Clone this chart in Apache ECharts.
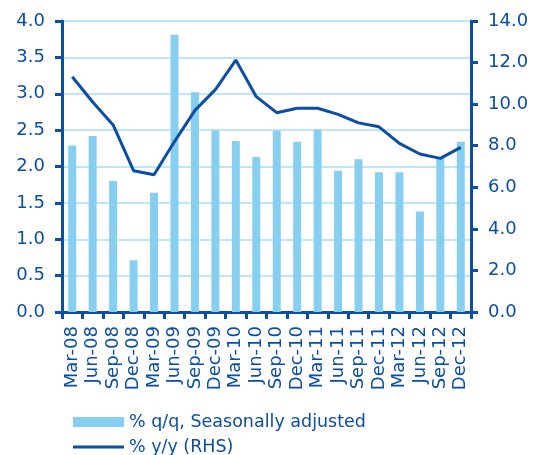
<!DOCTYPE html>
<html>
<head>
<meta charset="utf-8">
<script src="https://cdn.jsdelivr.net/npm/echarts@6/dist/echarts.min.js"></script>
<style>
html,body{margin:0;padding:0;background:#fff;}
#c{width:533px;height:455px;}
</style>
</head>
<body>
<div id="c"></div>
<script>
var categories = ['Mar-08','Jun-08','Sep-08','Dec-08','Mar-09','Jun-09','Sep-09','Dec-09','Mar-10','Jun-10','Sep-10','Dec-10','Mar-11','Jun-11','Sep-11','Dec-11','Mar-12','Jun-12','Sep-12','Dec-12'];
var qoq = [2.29,2.42,1.80,0.71,1.64,3.81,3.02,2.50,2.35,2.13,2.49,2.34,2.51,1.94,2.10,1.92,1.92,1.38,2.13,2.34];
var yoy = [11.32,10.1,9.0,6.8,6.6,8.2,9.7,10.7,12.12,10.36,9.59,9.8,9.8,9.51,9.1,8.91,8.11,7.6,7.39,7.92];
var leftTicks = {min:0, max:4, interval:0.5};
var rightTicks = {min:0, max:14, interval:2};

var dark = '#0b4ea2';
var light = '#87cff1';
var grid = '#bfe6f7';
var font = 'DejaVu Sans';

var chart = echarts.init(document.getElementById('c'), null, {renderer:'canvas'});
var legendText = {color:dark,fontSize:17.5,fontFamily:font};
chart.setOption({
  animation:false,
  textStyle:{fontFamily:font},
  grid:{left:62,right:62,top:21,bottom:143,containLabel:false},
  legend:[{
    orient:'horizontal', left:68, top:408,
    itemWidth:51, itemHeight:10,
    textStyle:legendText,
    data:[{name:'% q/q, Seasonally adjusted',icon:'rect'}]
  },{
    orient:'horizontal', left:68, top:433,
    itemWidth:51, itemHeight:3,
    textStyle:legendText,
    data:[{name:'% y/y (RHS)',icon:'rect',itemStyle:{color:dark}}]
  }],
  xAxis:{
    type:'category', data:categories, boundaryGap:true,
    axisLine:{lineStyle:{color:dark,width:3}},
    axisTick:{show:true,length:7,lineStyle:{color:dark,width:3},alignWithLabel:false},
    axisLabel:{rotate:90,color:dark,fontSize:18,fontFamily:font,margin:14,interval:0},
    splitLine:{show:false}
  },
  yAxis:[{
    type:'value', min:leftTicks.min, max:leftTicks.max, interval:leftTicks.interval, position:'left',
    axisLine:{show:true,lineStyle:{color:dark,width:3}},
    axisTick:{show:true,length:7,lineStyle:{color:dark,width:3}},
    axisLabel:{color:dark,fontSize:18,fontFamily:font,margin:17,formatter:function(v){return v.toFixed(1);}},
    splitLine:{show:true,lineStyle:{color:grid,width:2}}
  },{
    type:'value', min:rightTicks.min, max:rightTicks.max, interval:rightTicks.interval, position:'right',
    axisLine:{show:true,lineStyle:{color:dark,width:3}},
    axisTick:{show:true,length:7,lineStyle:{color:dark,width:3}},
    axisLabel:{color:dark,fontSize:18,fontFamily:font,margin:17,formatter:function(v){return v.toFixed(1);}},
    splitLine:{show:false}
  }],
  series:[{
    name:'% q/q, Seasonally adjusted', type:'bar', data:qoq, yAxisIndex:0,
    barWidth:8, itemStyle:{color:light}
  },{
    name:'% y/y (RHS)', type:'line', data:yoy, yAxisIndex:1,
    symbol:'none', lineStyle:{color:dark,width:3}, itemStyle:{color:dark}
  }]
});
</script>
</body>
</html>
